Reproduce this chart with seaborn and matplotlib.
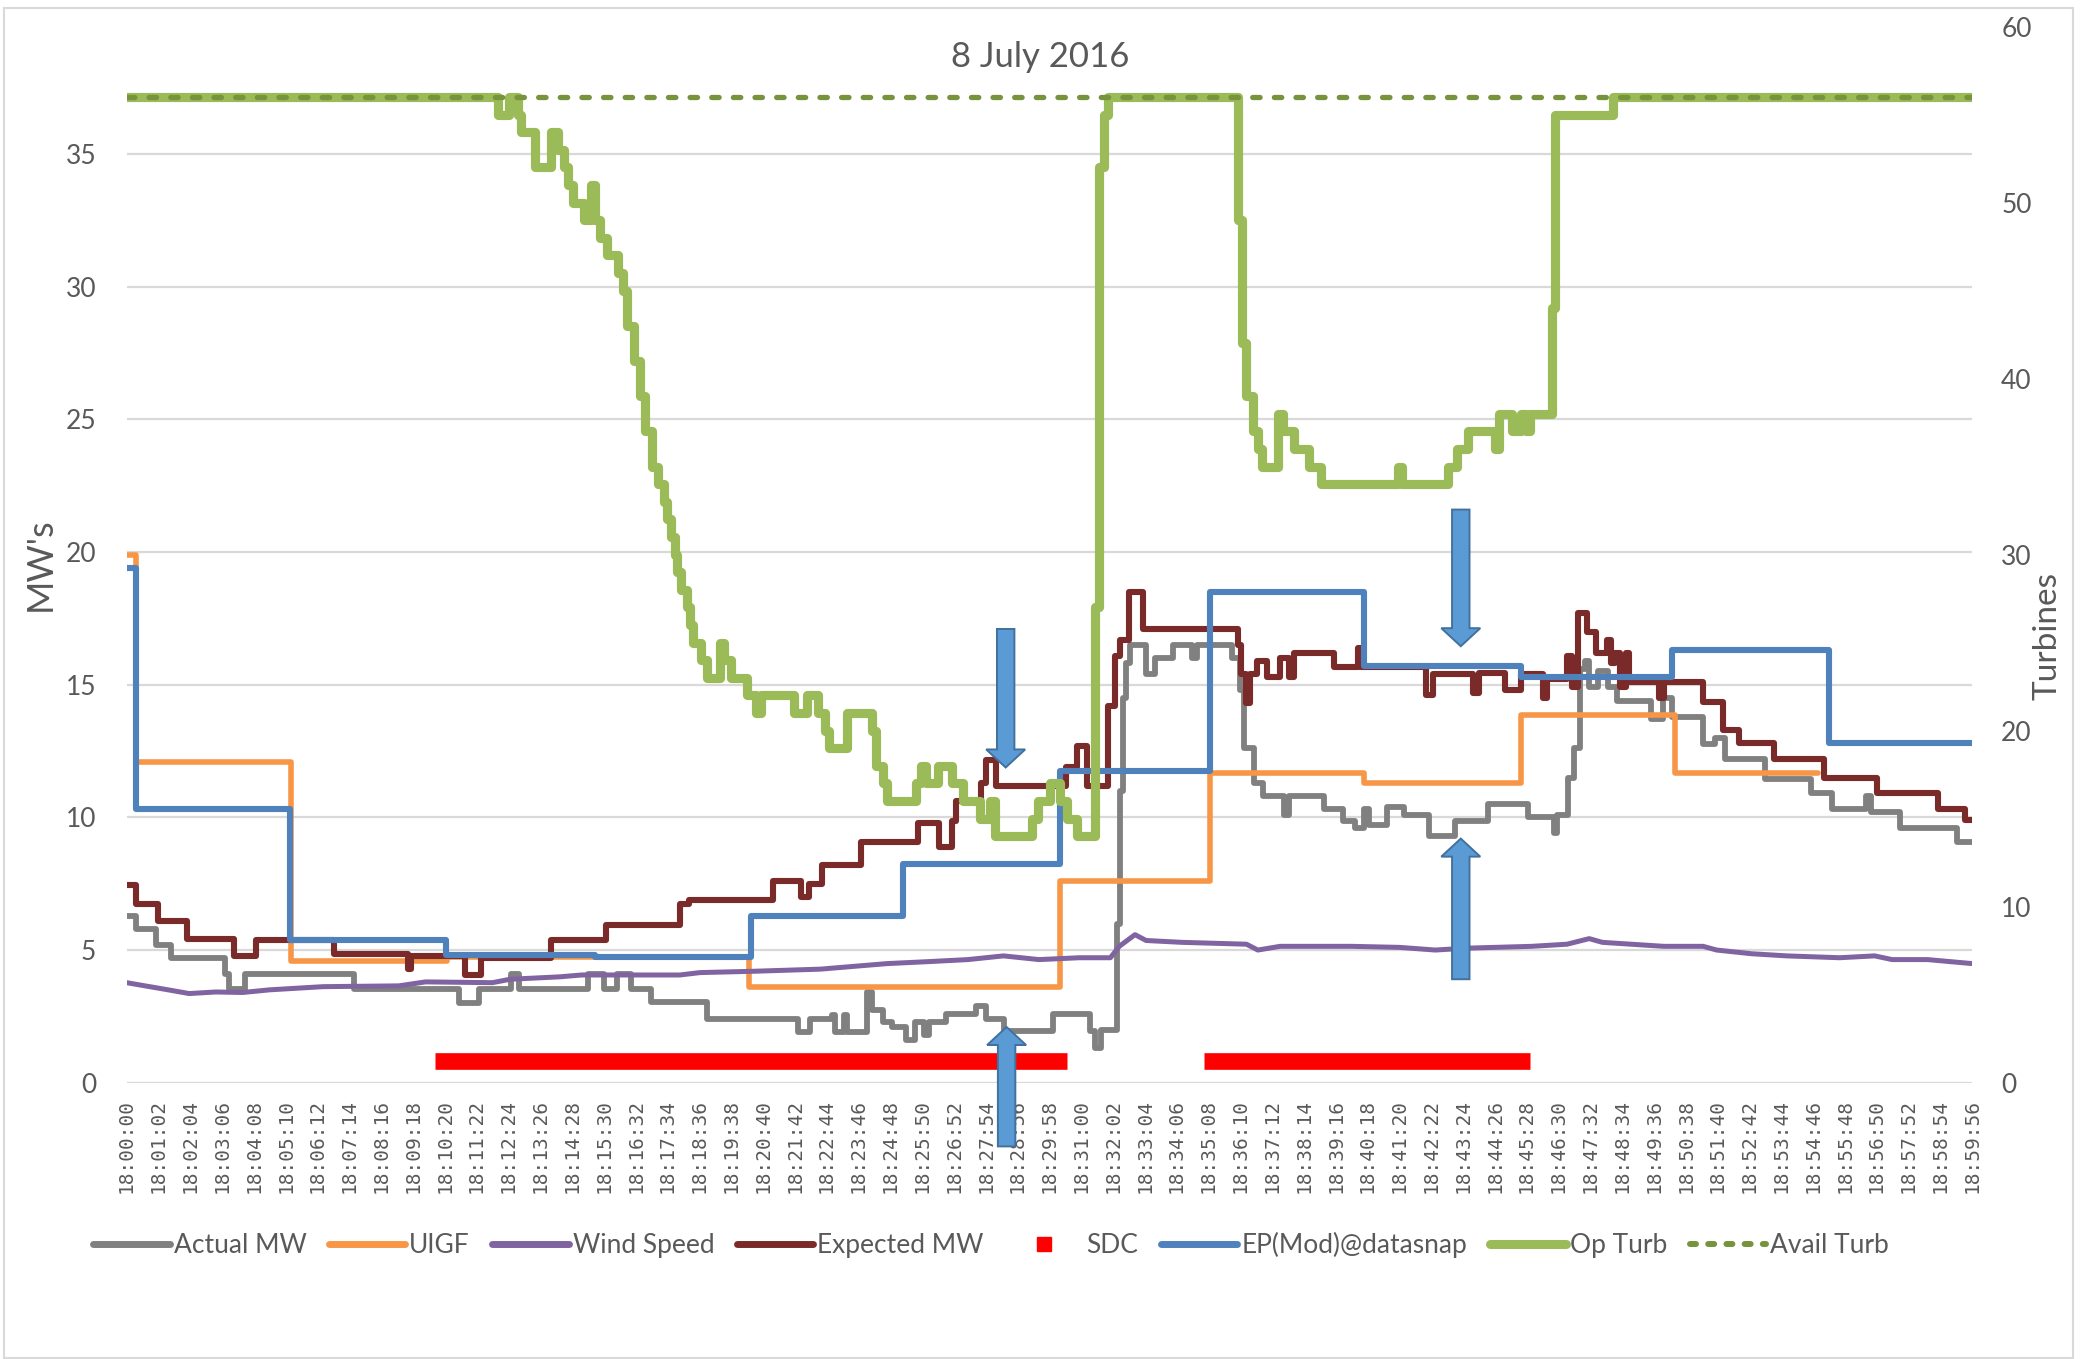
import numpy as np
import matplotlib
matplotlib.use("Agg")
import matplotlib.pyplot as plt
from matplotlib.lines import Line2D
from matplotlib.patches import FancyArrow, Rectangle
import seaborn as sns

# minutes after 18:00:00 at which each series changes, and the new level
actual_min = [0, 0.29, 0.94, 1.45, 3.19, 3.33, 3.84, 7.39, 10.8, 11.45, 12.5, 12.75, 15.0, 15.5, 15.94,
              16.38, 17.03, 18.84, 21.8, 22.2, 22.9, 23.0, 23.3, 23.4, 24.05, 24.2, 24.55, 24.85, 25.3,
              25.6, 25.9, 26.05, 26.6, 27.6, 27.9, 28.5, 30.1, 31.3, 31.45, 31.65, 32.15, 32.25, 32.35,
              32.45, 32.6, 33.1, 33.4, 33.98, 34.6, 34.75, 35.9, 36.15, 36.3, 36.6, 36.9, 37.6, 37.75,
              38.9, 39.5, 39.9, 40.2, 40.35, 40.95, 41.5, 42.3, 43.15, 44.2, 45.5, 46.35, 46.45, 46.8,
              47.0, 47.2, 47.35, 47.5, 47.8, 48.1, 48.4, 49.5, 49.9, 50.2, 51.2, 51.6, 51.9, 53.2, 54.7,
              55.4, 56.5, 56.65, 57.6, 59.45, 59.93]
actual_mw = [6.3, 5.8, 5.2, 4.7, 4.1, 3.55, 4.1, 3.55, 3.0, 3.55, 4.1, 3.55, 4.1, 3.55, 4.1,
             3.55, 3.04, 2.4, 1.9, 2.4, 2.55, 1.9, 2.55, 1.9, 3.4, 2.75, 2.3, 2.1, 1.6,
             2.3, 1.8, 2.3, 2.6, 2.9, 2.4, 1.95, 2.6, 1.95, 1.3, 2.0, 6.0, 11.0, 14.5,
             15.8, 16.5, 15.4, 16.0, 16.5, 16.0, 16.5, 16.0, 14.8, 12.6, 11.3, 10.8, 10.1, 10.8,
             10.3, 9.85, 9.6, 10.3, 9.7, 10.4, 10.1, 9.3, 9.85, 10.5, 10.0, 9.4, 10.1, 11.5,
             12.6, 15.6, 15.9, 14.9, 15.5, 14.9, 14.4, 13.7, 14.5, 13.8, 12.75, 13.0, 12.2, 11.45, 10.9,
             10.3, 10.8, 10.2, 9.6, 9.06, 9.06]

uigf_min = [0, 0.3, 5.35, 10.4, 20.2, 30.3, 35.2, 40.2, 45.28, 50.28, 54.92]
uigf_mw = [19.9, 12.1, 4.57, 4.72, 3.62, 7.6, 11.67, 11.3, 13.84, 11.67, 11.67]

wind_min = [0, 1.45, 2.03, 2.9, 3.77, 4.64, 6.38, 8.84, 9.71, 11.88, 12.46, 14.06, 14.78, 17.97,
            18.62, 20.36, 22.53, 23.98, 24.71, 26.16, 27.32, 28.48, 29.63, 30.94, 31.95, 32.24,
            32.75, 33.11, 34.27, 36.37, 36.74, 37.46, 39.78, 41.35, 42.5, 43.5, 45.64, 46.78, 47.5,
            47.93, 49.92, 51.2, 51.64, 52.78, 53.92, 55.63, 56.77, 57.34, 58.49, 59.93]
wind_speed = [3.77, 3.48, 3.36, 3.42, 3.4, 3.5, 3.62, 3.65, 3.8, 3.77, 3.9, 3.99, 4.06, 4.06,
              4.15, 4.2, 4.28, 4.42, 4.49, 4.57, 4.64, 4.78, 4.64, 4.71, 4.71, 5.14,
              5.58, 5.36, 5.29, 5.22, 5.0, 5.14, 5.14, 5.1, 5.0, 5.07, 5.14, 5.22, 5.43,
              5.29, 5.14, 5.14, 5.0, 4.86, 4.78, 4.71, 4.78, 4.64, 4.64, 4.49]

expected_min = [0, 0.29, 1.01, 1.96, 3.48, 4.2, 6.74, 9.13, 9.25, 11.0, 11.52, 13.77, 15.58, 17.97,
                18.26, 21.0, 21.9, 22.17, 22.6, 23.85, 25.7, 26.37, 26.8, 26.95, 27.75, 27.9, 28.25,
                30.5, 30.85, 31.2, 31.88, 32.1, 32.25, 32.55, 33.0, 36.08, 36.2, 36.35, 36.5, 36.7,
                37.05, 37.47, 37.75, 37.9, 39.2, 39.99, 40.1, 42.2, 42.43, 43.72, 43.93, 44.78, 45.28,
                46.0, 46.14, 46.78, 46.93, 47.14, 47.43, 47.71, 48.07, 48.21, 48.35, 48.5, 48.71,
                48.78, 49.78, 49.92, 51.21, 51.85, 52.35, 53.49, 55.13, 56.85, 58.84, 59.7, 59.93]
expected_mw = [7.46, 6.74, 6.1, 5.43, 4.78, 5.36, 4.86, 4.3, 4.78, 4.06, 4.7, 5.36, 5.94, 6.74,
               6.88, 7.6, 7.0, 7.5, 8.2, 9.06, 9.8, 8.9, 9.86, 10.6, 11.3, 12.17, 11.2,
               11.9, 12.7, 11.2, 14.2, 16.1, 16.7, 18.5, 17.1, 16.5, 15.4, 14.3, 15.4, 15.9,
               15.3, 16.0, 15.3, 16.2, 15.65, 16.4, 15.65, 14.6, 15.4, 14.7, 15.45, 14.8, 15.4,
               14.5, 15.2, 16.1, 14.9, 17.7, 17.0, 16.2, 16.7, 15.8, 16.2, 14.9, 16.2,
               15.1, 14.5, 15.1, 14.35, 13.3, 12.8, 12.2, 11.5, 10.9, 10.3, 9.9, 9.9]

sdc_start = [10.02, 35.0]
sdc_end = [30.54, 45.57]
sdc_level = 0.8

ep_min = [0, 0.3, 5.3, 10.36, 15.2, 20.29, 25.2, 30.3, 35.2, 40.2, 45.3, 50.2, 55.3, 59.93]
ep_mw = [19.4, 10.3, 5.36, 4.8, 4.72, 6.3, 8.26, 11.74, 18.48, 15.72, 15.29, 16.3, 12.8, 12.8]

op_min = [0, 12.05, 12.41, 12.70, 12.80, 13.25, 13.79, 14.0, 14.22, 14.35,
          14.51, 14.87, 15.09, 15.20, 15.38, 15.60, 15.96, 16.11, 16.25, 16.47,
          16.69, 16.83, 17.05, 17.27, 17.45, 17.55, 17.67, 17.80, 17.89, 18.00,
          18.19, 18.30, 18.41, 18.67, 18.84, 19.27, 19.40, 19.63, 20.14, 20.45,
          20.60, 21.66, 22.10, 22.46, 22.68, 22.82, 23.40, 24.20, 24.35, 24.55,
          24.70, 25.65, 25.80, 25.95, 26.35, 26.80, 27.17, 27.70, 28.04, 28.20,
          29.40, 29.60, 30.00, 30.30, 30.55, 30.85, 31.45, 31.59, 31.73, 31.88,
          36.08, 36.23, 36.37, 36.59, 36.74, 36.88, 37.39, 37.55, 37.90, 38.40,
          38.80, 41.30, 41.42, 42.93, 43.22, 43.55, 44.45, 44.57, 45.00, 45.30,
          45.45, 45.57, 46.28, 46.40, 48.28, 59.93]
op_turb = [56, 55, 56, 55, 54, 52, 54, 53, 52, 51,
           50, 49, 51, 49, 48, 47, 46, 45, 43, 41,
           39, 37, 35, 34, 33, 32, 31, 30, 29, 28,
           27, 26, 25, 24, 23, 25, 24, 23, 22, 21,
           22, 21, 22, 21, 20, 19, 21, 20, 18, 17,
           16, 17, 18, 17, 18, 17, 16, 15, 16, 14,
           15, 16, 17, 16, 15, 14, 27, 52, 55, 56,
           49, 42, 39, 37, 36, 35, 38, 37, 36, 35,
           34, 35, 34, 35, 36, 37, 36, 38, 37, 38,
           37, 38, 44, 55, 56, 56]

avail_min = [0, 59.93]
avail_turb = [56, 56]

# blue block arrows drawn on the chart: minute, tail (MW), tip (MW)
arrow_min = [28.55, 28.58, 43.33, 43.33]
arrow_tail = [17.1, -2.4, 21.6, 3.9]
arrow_tip = [11.88, 2.1, 16.45, 9.2]

# category labels every 62 seconds
tick_sec = list(range(0, 3597, 62))
tick_labels = [f"18:{s // 60:02d}:{s % 60:02d}" for s in tick_sec]

GRAY = "#808080"
ORANGE = "#F79646"
PURPLE = "#8064A2"
DARKRED = "#7B2A2A"
RED = "#FF0000"
BLUE = "#4F81BD"
GREEN = "#9BBB59"
DKGREEN = "#77933C"
TEXT = "#595959"


def secs(mins):
    return np.array(mins) * 60.0


def make_chart():
    sns.set_theme(style="white")
    plt.rcParams["font.family"] = ["Lato", "DejaVu Sans"]

    fig = plt.figure(figsize=(20.89, 13.59), dpi=100)
    ax = fig.add_axes([0.0606, 0.2033, 0.8834, 0.7771])
    ax2 = ax.twinx()

    step = dict(drawstyle="steps-post", estimator=None, sort=False, legend=False)
    sns.lineplot(x=secs(actual_min), y=actual_mw, ax=ax, color=GRAY, linewidth=4.2, **step)
    sns.lineplot(x=secs(uigf_min), y=uigf_mw, ax=ax, color=ORANGE, linewidth=4.0, **step)
    sns.lineplot(x=secs(wind_min), y=wind_speed, ax=ax, color=PURPLE, linewidth=3.6,
                 estimator=None, sort=False, legend=False)
    sns.lineplot(x=secs(expected_min), y=expected_mw, ax=ax, color=DARKRED, linewidth=4.4, **step)
    for s0, s1 in zip(sdc_start, sdc_end):
        sns.lineplot(x=secs([s0, s1]), y=[sdc_level, sdc_level], ax=ax, color=RED,
                     linewidth=12, solid_capstyle="butt", estimator=None, legend=False)
    sns.lineplot(x=secs(ep_min), y=ep_mw, ax=ax, color=BLUE, linewidth=4.4, **step)

    sns.lineplot(x=secs(op_min), y=op_turb, ax=ax2, color=GREEN, linewidth=6.6, **step)
    avail = sns.lineplot(x=secs(avail_min), y=avail_turb, ax=ax2, color=DKGREEN, linewidth=3.8,
                         estimator=None, legend=False)
    avail.lines[-1].set_dashes([1.4, 2.7])
    avail.lines[-1].set_dash_capstyle("round")

    ax.set_xlim(0, 3596)
    ax.set_ylim(0, 39.8)
    ax2.set_ylim(0, 60)
    ax.set_yticks(range(0, 36, 5))
    ax2.set_yticks(range(0, 61, 10))
    ax.set_xticks(tick_sec)
    ax.set_xticklabels(tick_labels, rotation=90, fontfamily="DejaVu Sans Mono",
                       fontsize=14, color=TEXT)
    ax.set_xlabel("")
    ax.set_ylabel("")
    ax2.set_ylabel("")

    ax.yaxis.grid(True, color="#D9D9D9", linewidth=1.6)
    ax.xaxis.grid(False)
    ax2.grid(False)
    ax.set_axisbelow(True)
    for a in (ax, ax2):
        for sp in a.spines.values():
            sp.set_visible(False)
    ax.tick_params(axis="y", length=0, pad=22, labelsize=19, labelcolor=TEXT)
    ax.tick_params(axis="x", length=0, pad=12)
    ax2.tick_params(axis="y", length=0, pad=21, labelsize=19, labelcolor=TEXT)

    # block arrows, on top of everything (the lower one runs over the labels)
    for m, tail, tip in zip(arrow_min, arrow_tail, arrow_tip):
        arrow = FancyArrow(m * 60, tail, 0, tip - tail, width=34, head_width=76,
                           head_length=0.68, length_includes_head=True,
                           facecolor="#5B9BD5", edgecolor="#41719C", linewidth=1.4,
                           transform=ax.transData, clip_on=False, zorder=30)
        ax2.add_patch(arrow)
    ax2.set_ylim(0, 60)

    fig.text(0.4978, 0.958, "8 July 2016", ha="center", va="center", fontsize=25, color=TEXT)
    fig.text(0.0195, 0.585, "MW's", ha="center", va="center", rotation=90, fontsize=26, color=TEXT)
    fig.text(0.980, 0.532, "Turbines", ha="center", va="center", rotation=90, fontsize=24, color=TEXT)

    handles = [
        Line2D([], [], color=GRAY, lw=5, solid_capstyle="round"),
        Line2D([], [], color=ORANGE, lw=5, solid_capstyle="round"),
        Line2D([], [], color=PURPLE, lw=5, solid_capstyle="round"),
        Line2D([], [], color=DARKRED, lw=5, solid_capstyle="round"),
        Line2D([], [], color=RED, ls="none", marker="s", markersize=10),
        Line2D([], [], color=BLUE, lw=5, solid_capstyle="round"),
        Line2D([], [], color=GREEN, lw=6.5, solid_capstyle="round"),
        Line2D([], [], color=DKGREEN, lw=4.3, dashes=[1.0, 2.05], dash_capstyle="round"),
    ]
    labels = ["Actual MW", "UIGF", "Wind Speed", "Expected MW", "SDC",
              "EP(Mod)@datasnap", "Op Turb", "Avail Turb"]
    fig.legend(handles, labels, loc="center", bbox_to_anchor=(0.4744, 0.0839), ncol=8,
               frameon=False, fontsize=19, handlelength=2.9, handletextpad=0.15,
               columnspacing=0.85, labelcolor=TEXT)

    fig.patches.append(Rectangle((0.002, 0.001), 0.9905, 0.993, transform=fig.transFigure,
                                 fill=False, edgecolor="#D9D9D9", linewidth=1.5))

    fig.savefig("out.png", dpi=100)
    plt.close(fig)


if __name__ == "__main__":
    make_chart()
